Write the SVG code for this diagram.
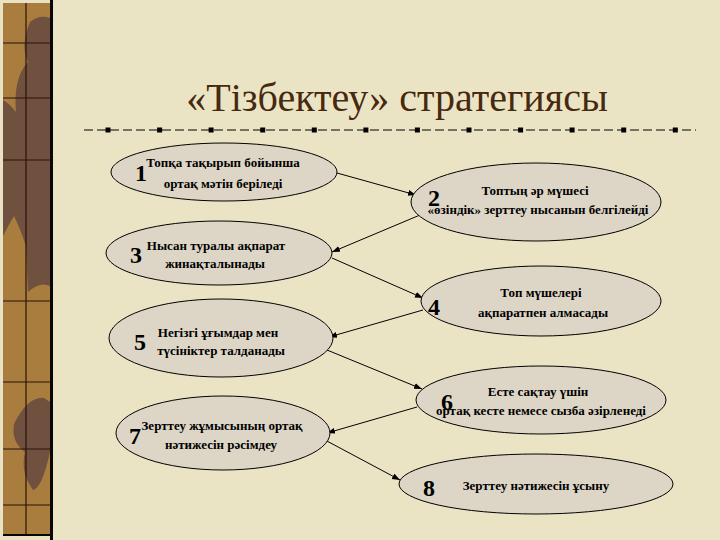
<svg xmlns="http://www.w3.org/2000/svg" width="720" height="540" viewBox="0 0 720 540">
  <style>
    .node ellipse { fill: #ddd6c6; stroke: #000; stroke-width: 1; }
    .lbl { font-family: "Liberation Serif", "Times New Roman", serif; font-weight: bold; font-size: 13px; fill: #000; text-anchor: middle; }
    .num { font-family: "Liberation Serif", "Times New Roman", serif; font-weight: bold; font-size: 24px; fill: #000; }
    .title { font-family: "Liberation Serif", "Times New Roman", serif; font-size: 40px; fill: #46290f; text-anchor: middle; }
    .conn line { stroke: #000; stroke-width: 1; marker-end: url(#arr); }
    .grid { stroke: #2a120c; stroke-width: 1.2; }
  </style>
  <defs>
    <marker id="arr" markerWidth="9" markerHeight="7" refX="8" refY="3" orient="auto" markerUnits="userSpaceOnUse">
      <path d="M0,0 L8,3 L0,6 Z" fill="#000"/>
    </marker>
  </defs>

  <!-- background -->
  <rect x="0" y="0" width="720" height="540" fill="#ebe4c4"/>

  <!-- left decorative strip -->
  <g id="strip">
    <rect x="0" y="0" width="54" height="540" fill="#e9e2c4"/>
    <rect x="3" y="3" width="47" height="532" fill="#a97d3d"/>
    <path d="M30,22 Q40,14 50,18 L50,286 Q40,281 28,292 L26,246 Q20,228 14,216 Q8,226 3,236 L3,100 Q10,104 16,112 Q13,78 28,62 Q20,46 30,22 Z" fill="#70503f"/>
    <path d="M14,424 Q28,396 44,398 L50,402 L50,452 Q42,488 33,490 Q20,472 25,452 Q11,442 14,424 Z" fill="#70503f"/>
    <line class="grid" x1="26" y1="3" x2="26" y2="535"/>
    <line class="grid" x1="3" y1="43" x2="50" y2="43"/>
    <line class="grid" x1="3" y1="98" x2="50" y2="98"/>
    <line class="grid" x1="3" y1="160" x2="50" y2="160"/>
    <line class="grid" x1="3" y1="301" x2="50" y2="301"/>
    <line class="grid" x1="3" y1="382" x2="50" y2="382"/>
    <line class="grid" x1="3" y1="449" x2="50" y2="449"/>
    <line class="grid" x1="3" y1="505" x2="50" y2="505"/>
    <rect x="50" y="0" width="3" height="540" fill="#0a0505"/>
    <rect x="3" y="534" width="47" height="2" fill="#0a0505"/>
  </g>

  <!-- title -->
  <text class="title" x="397" y="111">«Тізбектеу» стратегиясы</text>

  <!-- dashed rule -->
  <g id="rule">
    <line x1="84" y1="130" x2="696" y2="130" stroke="#000" stroke-width="1" stroke-dasharray="9 4"/>
    <g fill="#000">
      <rect x="105.5" y="127.5" width="5" height="5"/>
      <rect x="157.1" y="127.5" width="5" height="5"/>
      <rect x="208.6" y="127.5" width="5" height="5"/>
      <rect x="260.2" y="127.5" width="5" height="5"/>
      <rect x="311.8" y="127.5" width="5" height="5"/>
      <rect x="363.4" y="127.5" width="5" height="5"/>
      <rect x="414.9" y="127.5" width="5" height="5"/>
      <rect x="466.5" y="127.5" width="5" height="5"/>
      <rect x="518.1" y="127.5" width="5" height="5"/>
      <rect x="569.6" y="127.5" width="5" height="5"/>
      <rect x="621.2" y="127.5" width="5" height="5"/>
      <rect x="672.8" y="127.5" width="5" height="5"/>
    </g>
  </g>

  <!-- connectors -->
  <g id="connectors" class="conn">
    <line x1="337" y1="173" x2="416" y2="195"/>
    <line x1="420" y1="215" x2="332" y2="252"/>
    <line x1="332" y1="258" x2="423" y2="298"/>
    <line x1="423" y1="310" x2="329" y2="337"/>
    <line x1="327" y1="350" x2="422" y2="389"/>
    <line x1="417" y1="407" x2="327" y2="433"/>
    <line x1="325" y1="440" x2="400" y2="480"/>
  </g>

  <!-- nodes -->
  <g id="n1" class="node">
    <ellipse cx="224" cy="172" rx="113" ry="29"/>
    <text class="num" x="135" y="181">1</text>
    <text class="lbl" x="223" y="167">Топқа тақырып бойынша</text>
    <text class="lbl" x="223" y="188">ортақ мәтін беріледі</text>
  </g>
  <g id="n2" class="node">
    <ellipse cx="536" cy="202" rx="125" ry="39"/>
    <text class="num" x="428" y="206">2</text>
    <text class="lbl" x="535" y="195">Топтың әр мүшесі</text>
    <text class="lbl" x="538" y="214">«өзіндік» зерттеу нысанын белгілейді</text>
  </g>
  <g id="n3" class="node">
    <ellipse cx="219" cy="253" rx="113" ry="32"/>
    <text class="num" x="130" y="263">3</text>
    <text class="lbl" x="216" y="250">Нысан туралы ақпарат</text>
    <text class="lbl" x="215" y="268">жинақталынады</text>
  </g>
  <g id="n4" class="node">
    <ellipse cx="541" cy="301" rx="120" ry="35"/>
    <text class="num" x="428" y="315">4</text>
    <text class="lbl" x="541" y="297">Топ мүшелері</text>
    <text class="lbl" x="543" y="317">ақпаратпен алмасады</text>
  </g>
  <g id="n5" class="node">
    <ellipse cx="221" cy="338" rx="112" ry="39"/>
    <text class="num" x="134" y="350">5</text>
    <text class="lbl" x="218" y="337">Негізгі ұғымдар мен</text>
    <text class="lbl" x="221" y="355">түсініктер талданады</text>
  </g>
  <g id="n6" class="node">
    <ellipse cx="541" cy="400" rx="125" ry="34"/>
    <text class="num" x="441" y="410">6</text>
    <text class="lbl" x="538" y="396">Есте сақтау үшін</text>
    <text class="lbl" x="541" y="415">ортақ кесте немесе сызба әзірленеді</text>
  </g>
  <g id="n7" class="node">
    <ellipse cx="223" cy="433" rx="107" ry="37"/>
    <text class="num" x="129" y="444">7</text>
    <text class="lbl" x="222" y="430">Зерттеу жұмысының ортақ</text>
    <text class="lbl" x="221" y="449">нәтижесін рәсімдеу</text>
  </g>
  <g id="n8" class="node">
    <ellipse cx="536" cy="484" rx="137" ry="30"/>
    <text class="num" x="423" y="496">8</text>
    <text class="lbl" x="536" y="490">Зерттеу нәтижесін ұсыну</text>
  </g>
</svg>
